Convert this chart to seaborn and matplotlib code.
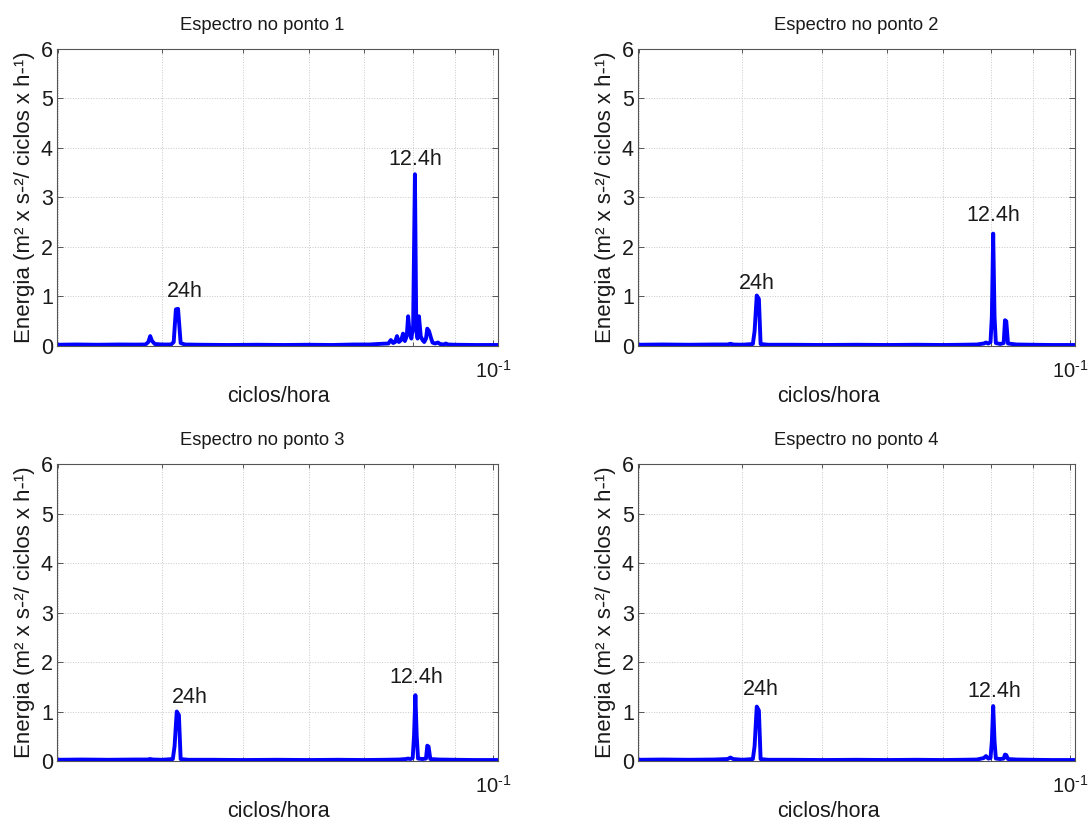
import matplotlib
matplotlib.use("Agg")
import matplotlib.pyplot as plt
import pandas as pd
import seaborn as sns
from matplotlib.ticker import FixedLocator, NullFormatter, FixedFormatter

sns.set_theme(style="white")
plt.rcParams["font.family"] = ["Liberation Sans", "DejaVu Sans"]
plt.rcParams["mathtext.fontset"] = "custom"
plt.rcParams["mathtext.rm"] = "Liberation Sans"
plt.rcParams["mathtext.it"] = "Liberation Sans:italic"
plt.rcParams["mathtext.bf"] = "Liberation Sans:bold"
plt.rcParams["mathtext.default"] = "regular"

# ---------------------------------------------------------------- data
titulos = ["Espectro no ponto 1", "Espectro no ponto 2",
           "Espectro no ponto 3", "Espectro no ponto 4"]

freq_1 = [0.0299, 0.0315, 0.0335, 0.0355, 0.0372, 0.0382, 0.0385, 0.0387,
          0.0389, 0.0392, 0.0400, 0.0410, 0.0413, 0.04155, 0.0418, 0.0421,
          0.0426, 0.0445, 0.0480, 0.0520, 0.0560, 0.0600, 0.0640, 0.0680,
          0.0710, 0.0735, 0.0748, 0.0753, 0.0758, 0.0762, 0.0766, 0.0770,
          0.0775, 0.0779, 0.0783, 0.0787, 0.0790, 0.0793, 0.0797, 0.0801,
          0.0805, 0.0808, 0.0811, 0.0814, 0.0818, 0.0822, 0.0826, 0.0830,
          0.0833, 0.0837, 0.0841, 0.0845, 0.0851, 0.0858, 0.0863, 0.0872,
          0.0877, 0.0882, 0.0900, 0.0950, 0.1013]
energia_1 = [0.025, 0.030, 0.025, 0.030, 0.028, 0.030, 0.080, 0.200,
             0.100, 0.040, 0.030, 0.030, 0.080, 0.740, 0.750, 0.060,
             0.030, 0.025, 0.020, 0.025, 0.020, 0.025, 0.020, 0.030,
             0.030, 0.045, 0.050, 0.120, 0.060, 0.080, 0.200, 0.080,
             0.120, 0.250, 0.100, 0.200, 0.600, 0.300, 0.150, 0.400,
             3.470, 0.300, 0.150, 0.600, 0.200, 0.120, 0.080, 0.150,
             0.350, 0.300, 0.180, 0.070, 0.050, 0.070, 0.040, 0.030,
             0.050, 0.030, 0.025, 0.020, 0.020]

freq_2 = [0.0299, 0.0320, 0.0345, 0.0370, 0.0384, 0.0387, 0.0390, 0.0400,
          0.0412, 0.0414, 0.04165, 0.0419, 0.0421, 0.0430, 0.0460, 0.0500,
          0.0550, 0.0600, 0.0650, 0.0700, 0.0740, 0.0770, 0.0785, 0.0790,
          0.0795, 0.0800, 0.0803, 0.0806, 0.0809, 0.0812, 0.0822, 0.0830,
          0.0833, 0.0836, 0.0840, 0.0860, 0.0900, 0.0950, 0.1013]
energia_2 = [0.025, 0.030, 0.025, 0.030, 0.030, 0.045, 0.030, 0.025,
             0.040, 0.300, 1.020, 0.950, 0.040, 0.025, 0.025, 0.020,
             0.025, 0.020, 0.025, 0.020, 0.025, 0.030, 0.050, 0.070,
             0.050, 0.080, 0.600, 2.270, 0.600, 0.060, 0.040, 0.060,
             0.520, 0.500, 0.050, 0.030, 0.025, 0.020, 0.020]

freq_3 = [0.0299, 0.0320, 0.0345, 0.0370, 0.0384, 0.0387, 0.0390, 0.0400,
          0.0412, 0.0414, 0.04165, 0.0419, 0.0421, 0.0430, 0.0460, 0.0500,
          0.0550, 0.0600, 0.0650, 0.0700, 0.0740, 0.0770, 0.0785, 0.0790,
          0.0795, 0.0800, 0.0803, 0.0806, 0.0809, 0.0812, 0.0822, 0.0830,
          0.0833, 0.0836, 0.0840, 0.0860, 0.0900, 0.0950, 0.1013]
energia_3 = [0.025, 0.030, 0.025, 0.030, 0.030, 0.040, 0.030, 0.025,
             0.040, 0.300, 1.000, 0.930, 0.040, 0.025, 0.025, 0.020,
             0.025, 0.020, 0.025, 0.020, 0.025, 0.030, 0.040, 0.050,
             0.040, 0.060, 0.500, 1.330, 0.500, 0.050, 0.040, 0.050,
             0.310, 0.290, 0.040, 0.030, 0.025, 0.020, 0.020]

freq_4 = [0.0299, 0.0320, 0.0345, 0.0370, 0.0384, 0.0387, 0.0390, 0.0400,
          0.0412, 0.0414, 0.04165, 0.0419, 0.0421, 0.0430, 0.0460, 0.0500,
          0.0550, 0.0600, 0.0650, 0.0700, 0.0740, 0.0770, 0.0785, 0.0790,
          0.0795, 0.0800, 0.0803, 0.0806, 0.0809, 0.0812, 0.0822, 0.0830,
          0.0833, 0.0836, 0.0840, 0.0860, 0.0900, 0.0950, 0.1013]
energia_4 = [0.025, 0.030, 0.025, 0.030, 0.040, 0.070, 0.040, 0.025,
             0.040, 0.300, 1.100, 1.020, 0.040, 0.025, 0.025, 0.020,
             0.025, 0.020, 0.025, 0.020, 0.025, 0.030, 0.060, 0.100,
             0.050, 0.060, 0.400, 1.110, 0.400, 0.050, 0.040, 0.050,
             0.130, 0.120, 0.040, 0.030, 0.025, 0.020, 0.020]

rotulos = ["24h", "12.4h"]
rotulo_x = [[0.0426, 0.0805], [0.0417, 0.0807], [0.0432, 0.0807], [0.0421, 0.0808]]
rotulo_y = [[1.11, 3.76], [1.27, 2.63], [1.29, 1.68], [1.45, 1.41]]

y_ticks = [0, 1, 2, 3, 4, 5, 6]
x_minor = [0.03, 0.04, 0.05, 0.06, 0.07, 0.08, 0.09]
x_major = [0.1]
x_major_labels = [r"$10^{\text{-}1}$"]

series = [(freq_1, energia_1), (freq_2, energia_2),
          (freq_3, energia_3), (freq_4, energia_4)]

# ---------------------------------------------------------------- figure
fig = plt.figure(figsize=(10.89, 8.23), dpi=100)
fig.patch.set_facecolor("white")

posicoes = [
    [0.0523, 0.5796, 0.4050, 0.3609],
    [0.5859, 0.5796, 0.4013, 0.3609],
    [0.0523, 0.0753, 0.4050, 0.3609],
    [0.5859, 0.0753, 0.4013, 0.3609],
]
# horizontal placement (axes fraction) of titles and x labels per column
titulo_x = [0.465, 0.5, 0.465, 0.5]
xlabel_x = [0.503, 0.435, 0.503, 0.435]

cor_texto = "#1a1a1a"
cor_eixo = "#555555"
fs_titulo = 13.2
fs = 15.5

for i, (pos, (f, e)) in enumerate(zip(posicoes, series)):
    ax = fig.add_axes(pos)
    df = pd.DataFrame({"ciclos/hora": f, "energia": e})
    sns.lineplot(data=df, x="ciclos/hora", y="energia", ax=ax,
                 color="#0000ff", linewidth=2.8, estimator=None, sort=False)
    ax.set_xscale("log")
    ax.set_xlim(0.0299, 0.1013)
    ax.set_ylim(0, 6)

    ax.xaxis.set_major_locator(FixedLocator(x_major))
    ax.xaxis.set_major_formatter(FixedFormatter(x_major_labels))
    ax.xaxis.set_minor_locator(FixedLocator(x_minor))
    ax.xaxis.set_minor_formatter(NullFormatter())
    ax.yaxis.set_major_locator(FixedLocator(y_ticks))

    ax.grid(True, which="both", axis="x", linestyle=":", linewidth=0.7,
            color="#c8c8c8")
    ax.grid(True, which="major", axis="y", linestyle=":", linewidth=0.7,
            color="#c8c8c8")
    ax.set_axisbelow(True)

    ax.tick_params(axis="both", which="both", direction="in", top=True,
                   right=True, bottom=True, left=True, color=cor_eixo,
                   labelcolor=cor_texto)
    ax.tick_params(axis="y", labelsize=fs)
    ax.tick_params(axis="x", labelsize=14.5)
    ax.tick_params(axis="both", which="major", length=4.5, width=0.7)
    ax.tick_params(axis="x", which="minor", length=2.8, width=0.7)
    ax.tick_params(axis="x", which="major", pad=10)
    ax.tick_params(axis="y", which="major", pad=3)

    for sp in ax.spines.values():
        sp.set_color(cor_eixo)
        sp.set_linewidth(0.8)
        sp.set_visible(True)

    ax.set_title(titulos[i], fontsize=fs_titulo, color=cor_texto, pad=14,
                 x=titulo_x[i])
    ax.set_xlabel("ciclos/hora", fontsize=fs, color=cor_texto, labelpad=3,
                  x=xlabel_x[i])
    ax.set_ylabel("Energia (m² x s-²/ ciclos x h-¹)", fontsize=16,
                  color=cor_texto, labelpad=4)

    for txt, tx, ty in zip(rotulos, rotulo_x[i], rotulo_y[i]):
        ax.text(tx, ty, txt, ha="center", va="center", fontsize=fs,
                color=cor_texto)

fig.savefig("out.png", dpi=100, facecolor="white")
